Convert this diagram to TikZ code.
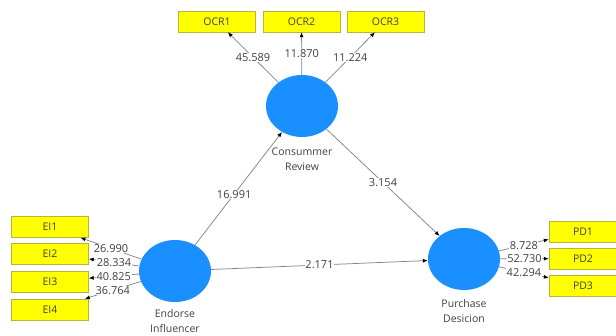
\documentclass[tikz,border=0pt]{standalone}
\usepackage{fontspec}
\setmainfont{Open Sans}
\usetikzlibrary{shapes.geometric,arrows.meta}
\definecolor{lvblue}{HTML}{1A8FFF}
\definecolor{indy}{HTML}{FFFF00}
\definecolor{txt}{HTML}{404040}
\definecolor{ln}{HTML}{858585}
\tikzset{
  lv/.style={ellipse, fill=lvblue, draw=none, minimum width=72pt, minimum height=62pt, inner sep=0pt},
  ind/.style={rectangle, fill=indy, draw=yellow!70!black, line width=0.4pt, minimum width=77pt, minimum height=21pt, inner sep=0pt, font=\fontsize{10.5}{12}\selectfont, text=txt},
  lvlab/.style={align=center, font=\fontsize{10.5}{14.5}\selectfont, text=txt},
  arr/.style={draw=ln, line width=0.75pt, -{Latex[length=5pt,width=4pt,color=black]}},
  val/.style={fill=white, inner sep=0.5pt, font=\fontsize{11}{12}\selectfont, text=txt}
}
\begin{document}
\begin{tikzpicture}[x=1pt,y=-1pt]
\useasboundingbox (0,0) rectangle (616,336);
% latent variables
\node[lv] (cr) at (302,106) {};
\node[lv] (ei) at (175,271) {};
\node[lv] (pd) at (464,259) {};
\node[lvlab] (crl) at (302,159.5) {Consummer\\Review};
\node[lvlab] (eil) at (175,321) {Endorse\\Influencer};
\node[lvlab] (pdl) at (464,311) {Purchase\\Desicion};
% indicators
\node[ind] (ocr1) at (217,21.5) {OCR1};
\node[ind] (ocr2) at (301.5,21.5) {OCR2};
\node[ind] (ocr3) at (385.5,21.5) {OCR3};
\node[ind] (ei1) at (50,227) {EI1};
\node[ind] (ei2) at (50,253.5) {EI2};
\node[ind] (ei3) at (50,281.5) {EI3};
\node[ind] (ei4) at (50,309.5) {EI4};
\node[ind, minimum width=68pt] (pd1) at (583,231.5) {PD1};
\node[ind, minimum width=68pt] (pd2) at (583,258.5) {PD2};
\node[ind, minimum width=68pt] (pd3) at (583,285.5) {PD3};
% outer loadings
\draw[arr] (cr) -- (ocr1) node[val, midway] {45.589};
\draw[arr] (cr) -- (ocr2) node[val, midway] {11.870};
\draw[arr] (cr) -- (ocr3) node[val, midway] {11.224};
\draw[arr] (ei) -- (ei1) node[val, midway] {26.990};
\draw[arr] (ei) -- (ei2) node[val, midway] {28.334};
\draw[arr] (ei) -- (ei3) node[val, midway] {40.825};
\draw[arr] (ei) -- (ei4) node[val, midway] {36.764};
\draw[arr] (pd) -- (pd1) node[val, midway] {8.728};
\draw[arr] (pd) -- (pd2) node[val, midway] {52.730};
\draw[arr] (pd) -- (pd3) node[val, midway] {42.294};
% structural paths
\draw[arr] (ei) -- (cr) node[val, pos=0.45] {16.991};
\draw[arr] (cr) -- (pd) node[val, pos=0.5] {3.154};
\draw[arr] (ei) -- (pd) node[val, midway] {2.171};
\end{tikzpicture}
\end{document}
